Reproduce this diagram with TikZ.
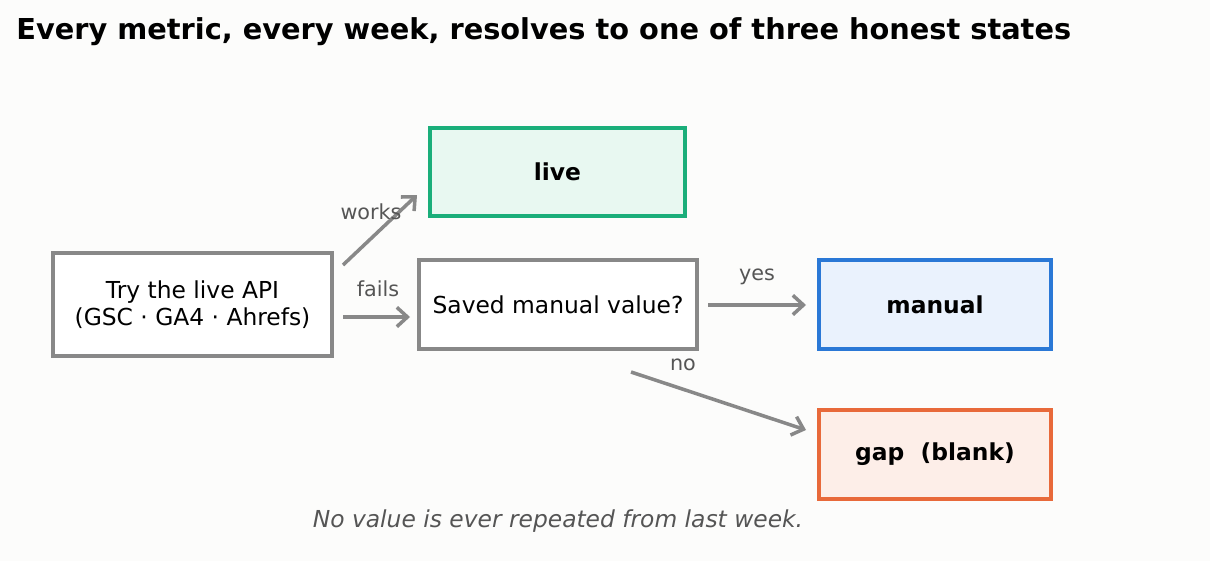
\documentclass[tikz,border=0pt]{standalone}
\usepackage{fontspec}
\setmainfont{DejaVu Sans}
\usetikzlibrary{arrows.meta}
\definecolor{bggray}{RGB}{252,252,251}
\definecolor{linegray}{RGB}{136,136,136}
\definecolor{labelgray}{RGB}{85,85,85}
\definecolor{livegreen}{RGB}{26,174,122}
\definecolor{livefill}{RGB}{232,248,241}
\definecolor{manualblue}{RGB}{42,120,214}
\definecolor{manualfill}{RGB}{234,242,253}
\definecolor{gaporange}{RGB}{232,105,58}
\definecolor{gapfill}{RGB}{253,238,232}
\tikzstyle{arrow} = [line width=2pt, draw=linegray, -{Straight Barb[length=6pt,width=11pt]}]
\tikzstyle{process} = [rectangle, draw=linegray, fill=white, line width=2.3pt, align=center, inner sep=0pt, font=\fontsize{13.3}{15}\selectfont]
\tikzstyle{outcome} = [process, font=\fontsize{13.3}{15}\selectfont\bfseries]
\tikzstyle{edgelabel} = [text=labelgray, inner sep=0pt, font=\fontsize{11.8}{14}\selectfont]

\begin{document}
\begin{tikzpicture}[x=0.02cm, y=-0.02cm]

\fill[bggray] (0,0) rectangle (1210,561);
\useasboundingbox (0,0) rectangle (1210,561);

\node (title) [anchor=base west, inner sep=0pt, font=\fontsize{16.4}{19}\selectfont\bfseries] at (16,39) {Every metric, every week, resolves to one of three honest states};

\node (api) [process, minimum width=5.58cm, minimum height=2.06cm] at (192.5,304.5) {Try the live API\\(GSC · GA4 · Ahrefs)};
\node (live) [outcome, draw=livegreen, fill=livefill, minimum width=5.1cm, minimum height=1.76cm] at (557.5,172) {live};
\node (saved) [process, minimum width=5.56cm, minimum height=1.78cm] at (558,304.5) {Saved manual value?};
\node (manual) [outcome, draw=manualblue, fill=manualfill, minimum width=4.64cm, minimum height=1.78cm] at (935,304.5) {manual};
\node (gap) [outcome, draw=gaporange, fill=gapfill, minimum width=4.64cm, minimum height=1.78cm] at (935,454.5) {gap\ \ (blank)};

\coordinate (works_s) at (343,265);
\coordinate (works_e) at (417,195);
\coordinate (fails_s) at (343,317);
\coordinate (fails_e) at (410,317);
\coordinate (yes_s) at (708,305);
\coordinate (yes_e) at (806,305);
\coordinate (no_s) at (631,372);
\coordinate (no_e) at (806,430);

\draw [arrow] (works_s) -- (works_e);
\draw [arrow] (fails_s) -- (fails_e);
\draw [arrow] (yes_s) -- (yes_e);
\draw [arrow] (no_s) -- (no_e);

\node (workslabel) [edgelabel] at (371,212) {works};
\node (failslabel) [edgelabel] at (378,289) {fails};
\node (yeslabel) [edgelabel] at (757,277) {yes};
\node (nolabel) [edgelabel] at (683,365) {no};

\node (footer) [anchor=base, inner sep=0pt, text=labelgray, font=\fontsize{13.3}{16}\selectfont\itshape] at (558,527) {No value is ever repeated from last week.};

\end{tikzpicture}
\end{document}
